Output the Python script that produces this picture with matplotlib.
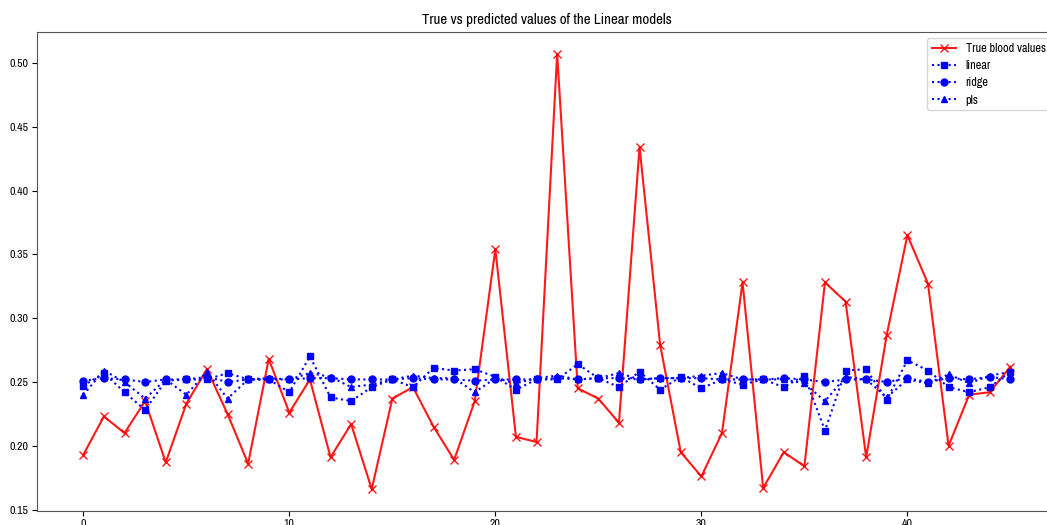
import matplotlib
matplotlib.use("Agg")
import matplotlib.pyplot as plt
from matplotlib import font_manager
import numpy as np

# narrow face for all labels if the system has one
names = sorted({f.name for f in font_manager.fontManager.ttflist})
narrow = [n for n in names if "Narrow" in n or "Condensed" in n]
plt.rcParams["font.family"] = narrow[:1] + ["DejaVu Sans"]
plt.rcParams["font.stretch"] = "condensed"

# true values and the three linear model predictions, one per sample
true_vals = [0.193, 0.223, 0.210, 0.235, 0.187, 0.233, 0.260, 0.225, 0.186, 0.268,
             0.226, 0.252, 0.191, 0.217, 0.166, 0.237, 0.246, 0.215, 0.189, 0.235,
             0.354, 0.207, 0.203, 0.507, 0.245, 0.237, 0.218, 0.434, 0.279, 0.195,
             0.176, 0.210, 0.328, 0.167, 0.195, 0.184, 0.328, 0.313, 0.191, 0.287,
             0.365, 0.327, 0.200, 0.240, 0.242, 0.262]
linear = [0.247, 0.257, 0.242, 0.228, 0.251, 0.252, 0.252, 0.257, 0.252, 0.252,
          0.242, 0.270, 0.238, 0.235, 0.246, 0.252, 0.246, 0.261, 0.259, 0.260,
          0.254, 0.244, 0.252, 0.252, 0.264, 0.253, 0.246, 0.258, 0.244, 0.254,
          0.245, 0.252, 0.248, 0.252, 0.246, 0.255, 0.212, 0.259, 0.260, 0.236,
          0.267, 0.259, 0.246, 0.242, 0.246, 0.258]
ridge = [0.251, 0.253, 0.252, 0.250, 0.252, 0.252, 0.254, 0.250, 0.252, 0.252,
         0.252, 0.253, 0.253, 0.252, 0.252, 0.252, 0.253, 0.252, 0.252, 0.251,
         0.252, 0.252, 0.252, 0.253, 0.252, 0.253, 0.253, 0.252, 0.253, 0.253,
         0.253, 0.252, 0.252, 0.252, 0.253, 0.252, 0.250, 0.252, 0.252, 0.250,
         0.253, 0.250, 0.253, 0.252, 0.254, 0.252]
pls = [0.240, 0.259, 0.250, 0.237, 0.252, 0.240, 0.258, 0.237, 0.252, 0.253,
       0.252, 0.257, 0.254, 0.246, 0.248, 0.252, 0.255, 0.253, 0.253, 0.242,
       0.253, 0.249, 0.253, 0.255, 0.252, 0.253, 0.257, 0.252, 0.253, 0.253,
       0.255, 0.257, 0.252, 0.252, 0.252, 0.249, 0.235, 0.254, 0.252, 0.238,
       0.252, 0.249, 0.256, 0.249, 0.255, 0.258]

x = np.arange(len(true_vals))

fig = plt.figure(figsize=(10.47, 5.25), dpi=100)
# axes run a little past the right edge of the canvas
ax = fig.add_axes([0.0353, 0.0267, 0.974, 0.912])

ax.plot(x, true_vals, color="red", marker="x", linewidth=1.5, markersize=6,
        alpha=0.9, label="True blood values")
ax.plot(x, linear, "b:s", linewidth=1.5, markersize=5, label="linear")
ax.plot(x, ridge, "b:o", linewidth=1.5, markersize=5, label="ridge")
ax.plot(x, pls, "b:^", linewidth=1.5, markersize=5, label="pls")

ax.set_title("True vs predicted values of the Linear models", fontsize=10.8)
ax.tick_params(labelsize=8.5, pad=2.5)
for spine in ax.spines.values():
    spine.set_color("#555555")
ax.legend(loc="upper right", fontsize=8.8)

fig.savefig("out.png", dpi=100)
